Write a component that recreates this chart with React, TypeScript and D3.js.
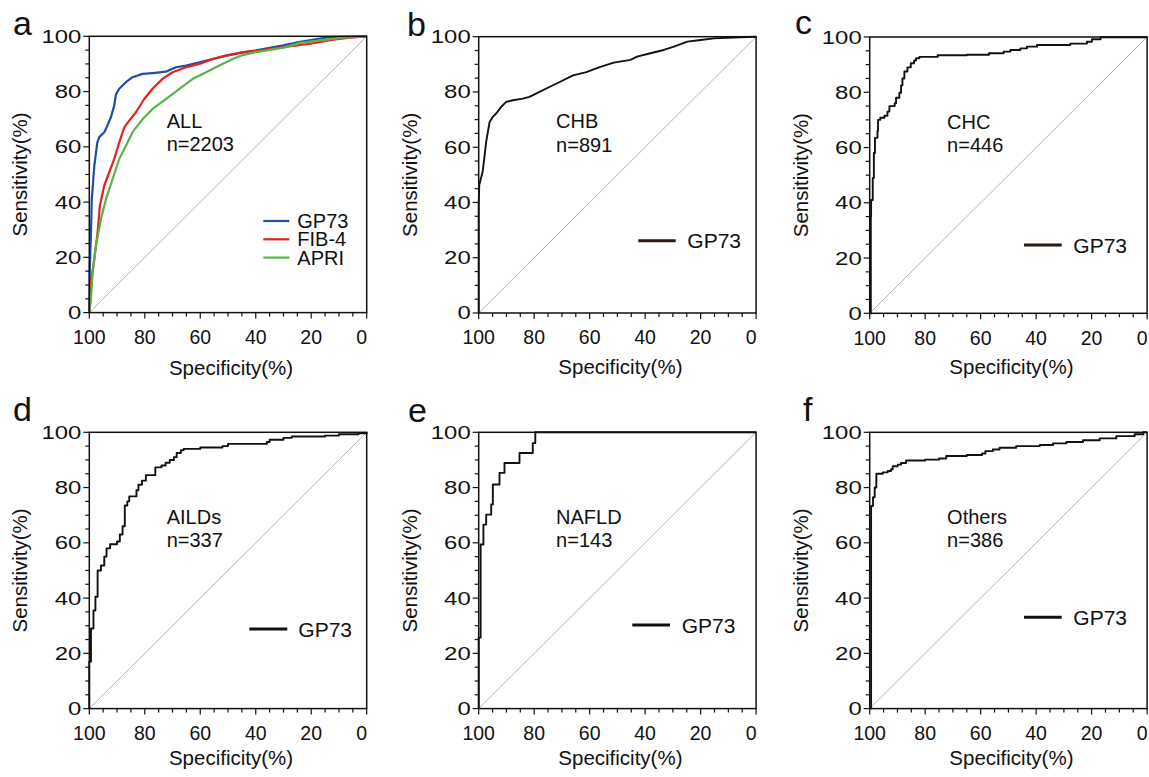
import * as d3 from 'd3';
import React from 'react';

// ROC curves, points are [specificity %, sensitivity %]
const majorTicks = [0, 20, 40, 60, 80, 100];
const minorTicks = d3.range(0, 101, 5);

const allGP73: [number, number][] = [
  [100, 0], [99.8, 17], [99.4, 29], [99.1, 41], [98.2, 53], [97.1, 61.6], [96.4, 63.5],
  [94.6, 65.3], [94, 66.5], [92.2, 70.7], [91, 75], [90.4, 79], [89.2, 81], [86.8, 83.4],
  [84.4, 85.2], [80.8, 86.4], [77.2, 86.7], [72.4, 87.2], [68.8, 88.8], [65.1, 89.4],
  [60.3, 90.6], [55.5, 91.8], [50.7, 93], [44.7, 94.2], [39.9, 94.9], [30, 96.7],
  [24, 98], [16.8, 99.2], [12, 99.8], [0, 100],
];
const allFIB4: [number, number][] = [
  [100, 0], [99.4, 11], [98.2, 19.4], [97, 29], [96.2, 38.7], [94.6, 46], [92.8, 50.8],
  [91, 55.6], [89.2, 61.6], [87.4, 67], [85.6, 69.5], [83.2, 72.5], [80.2, 77.3],
  [77.2, 81], [73.6, 84.6], [70, 87], [65.1, 88.8], [60.3, 90], [55.5, 91.8], [50.7, 93],
  [44.7, 94.2], [39.9, 94.7], [30, 96.1], [20.4, 97.3], [12, 98.8], [6, 99.5], [0, 100],
];
const allAPRI: [number, number][] = [
  [100, 0], [99.4, 5], [98.8, 14.6], [97.6, 24.2], [95.8, 33.9], [94, 41], [91.6, 48.4],
  [89.2, 55.6], [86.8, 60.4], [84.4, 65.3], [80.8, 70], [77.2, 73.7], [72.4, 77.3],
  [67.5, 81], [62.7, 84.6], [57.9, 87], [53.1, 89.4], [48.3, 91.8], [44.7, 93.2],
  [39.9, 94.3], [30, 95.9], [24, 97.6], [16.8, 98.5], [8.4, 99.5], [0, 100],
];
const chbGP73: [number, number][] = [
  [100, 0], [100, 39], [99.8, 46.3], [99.2, 48.7], [98.6, 51], [98, 55.9], [97.3, 62],
  [96.7, 65.5], [96.1, 69], [94.9, 71], [93.7, 72.2], [91.9, 74.6], [90.1, 76.4],
  [87.7, 77], [84.1, 77.6], [81.7, 78.2], [78.1, 80], [74.5, 81.8], [70.8, 83.6],
  [66, 86], [61.2, 87.2], [56.4, 89], [51.3, 90.6], [45.3, 91.6], [42.9, 92.8],
  [38.1, 94], [33.3, 95.2], [29.6, 96.4], [24.8, 98.2], [20, 98.8], [15.2, 99.4],
  [5.5, 99.8], [0, 100],
];
// step curves: each point is the top of a vertical rise
const chcGP73: [number, number][] = [
  [100, 0], [99.6, 35], [99.5, 41], [98.9, 49], [98.5, 58], [98.1, 63.5], [97.2, 66],
  [97, 70], [96.2, 70.8], [94.7, 71.5], [93.6, 73], [92.9, 75], [91, 76], [90.5, 78],
  [89.3, 79.8], [88.7, 82.5], [88.2, 85], [87.5, 87.5], [86.4, 89], [85.2, 90.5],
  [84, 91.5], [83.3, 92.3], [82.1, 92.8], [75.5, 93.4], [65, 93.6], [57, 94.1],
  [51.7, 94.7], [49.3, 95.3], [45.7, 95.9], [43.3, 96.5], [39.7, 97.1], [27.7, 97.6],
  [21.7, 98.3], [19.9, 99.2], [16.8, 99.9], [0, 100],
];
const aildGP73: [number, number][] = [
  [100, 0], [100, 17], [99.4, 29], [98.5, 35.5], [97.8, 40.5], [97, 50], [95.8, 51.8],
  [94.6, 55], [93.8, 58], [92.5, 59.5], [90, 60.5], [89, 63], [88, 66], [87.2, 73.5],
  [86.3, 75], [85.6, 76.8], [83, 79], [82.3, 81], [81, 82.5], [79.6, 84.5], [76.2, 87.3],
  [74, 88], [72.5, 89], [71, 90], [69.5, 91], [68.5, 92.5], [67, 93.5], [66, 94],
  [60, 94.5], [52, 95], [50, 95.8], [36, 96.5], [35, 97.3], [30, 98], [27, 98.5],
  [15, 98.8], [10, 99.3], [3, 99.6], [0, 100],
];
const nafldGP73: [number, number][] = [
  [100, 0], [100, 25.7], [99.3, 59.4], [98.3, 66.6], [97.3, 70.2], [95.5, 73.9],
  [94.9, 81.1], [92.5, 85.3], [90.7, 88.9], [85.3, 92.5], [80.5, 96.1], [79.6, 100], [0, 100],
];
const othersGP73: [number, number][] = [
  [100, 0], [99.5, 73.3], [98.8, 76.5], [98.2, 80], [97.6, 85], [95.3, 85.5], [93.5, 86],
  [92.3, 86.6], [91.7, 87.7], [89.9, 88.3], [88.7, 88.9], [86.9, 89.8], [80, 90.1],
  [75, 90.5], [72.4, 91.4], [65, 91.8], [59.5, 92.3], [58.3, 93.2], [55.6, 93.8],
  [53.2, 94.4], [47.2, 95], [38.7, 95.4], [33.9, 96], [29.1, 96.5], [23.1, 97.1],
  [17.1, 97.8], [11.1, 98.6], [4.5, 99.3], [1.4, 100], [0, 100],
];

const BLUE = '#1d4fa6';
const RED = '#e4211f';
const GREEN = '#5bb348';
const BROWN = '#2b1914';
const BLACK = '#111';

const font = '"Liberation Sans", Arial, sans-serif';
const W = 277.4;
const H = 276.3;

const panels = [
  { letter: 'a', left: 89.3, top: 36.3, lx: 13, ly: 35, title: 'ALL', n: 'n=2203', step: false,
    series: [{ name: 'GP73', color: BLUE, data: allGP73 }, { name: 'FIB-4', color: RED, data: allFIB4 }, { name: 'APRI', color: GREEN, data: allAPRI }],
    legend: { x1: 174, x2: 200, y: 184.7, tx: 208, color: null as string | null }, xTitleY: 62 },
  { letter: 'b', left: 478.7, top: 36.7, lx: 407, ly: 36, title: 'CHB', n: 'n=891', step: false,
    series: [{ name: 'GP73', color: BLACK, data: chbGP73 }],
    legend: { x1: 159.6, x2: 197, y: 204, tx: 208.6, color: BROWN }, xTitleY: 61 },
  { letter: 'c', left: 869.7, top: 37, lx: 795, ly: 34, title: 'CHC', n: 'n=446', step: true,
    series: [{ name: 'GP73', color: BLACK, data: chcGP73 }],
    legend: { x1: 154.3, x2: 192, y: 208, tx: 203.6, color: BROWN }, xTitleY: 61 },
  { letter: 'd', left: 89.3, top: 432.3, lx: 13, ly: 421, title: 'AILDs', n: 'n=337', step: true,
    series: [{ name: 'GP73', color: BLACK, data: aildGP73 }],
    legend: { x1: 160, x2: 198, y: 196.7, tx: 209, color: BLACK }, xTitleY: 56 },
  { letter: 'e', left: 478.7, top: 432.3, lx: 408, ly: 422, title: 'NAFLD', n: 'n=143', step: true,
    series: [{ name: 'GP73', color: BLACK, data: nafldGP73 }],
    legend: { x1: 153.6, x2: 191.3, y: 192.7, tx: 203, color: BLACK }, xTitleY: 56 },
  { letter: 'f', left: 869.7, top: 432.3, lx: 803, ly: 421, title: 'Others', n: 'n=386', step: true,
    series: [{ name: 'GP73', color: BLACK, data: othersGP73 }],
    legend: { x1: 154.3, x2: 192, y: 185, tx: 203.6, color: BLACK }, xTitleY: 56 },
];

const x = d3.scaleLinear().domain([100, 0]).range([0, W]);
const y = d3.scaleLinear().domain([0, 100]).range([H, 0]);

function Panel({ p }: { p: typeof panels[number] }) {
  const line = d3.line<[number, number]>()
    .x(d => x(d[0]))
    .y(d => y(d[1]))
    .curve(p.step ? d3.curveStepAfter : d3.curveLinear);
  const lg = p.legend;
  const multi = p.series.length > 1;
  return (
    <g>
      <text x={p.lx} y={p.ly} fontSize={34} fontFamily={font} fill="#111">{p.letter}</text>
      <g transform={`translate(${p.left},${p.top})`}>
        <line x1={x(100)} y1={y(0)} x2={x(0)} y2={y(100)} stroke="#b5b5b5" strokeWidth={1} />
        {p.series.map(s => (
          <path key={s.name} d={line(s.data) || ''} fill="none" stroke={s.color}
            strokeWidth={multi ? 2.2 : 1.9} strokeLinejoin="round" />
        ))}
        <rect x={0} y={0} width={W} height={H} fill="none" stroke="#111" strokeWidth={1.5} />
        {minorTicks.map(t => {
          const len = t % 20 === 0 ? 6 : 4;
          return (
            <g key={t}>
              <line x1={-len} x2={0} y1={y(t)} y2={y(t)} stroke="#111" strokeWidth={1.2} />
              <line x1={x(t)} x2={x(t)} y1={H} y2={H + len} stroke="#111" strokeWidth={1.2} />
            </g>
          );
        })}
        {majorTicks.map(t => (
          <g key={t}>
            <text x={-8} y={y(t) + 6.5} textAnchor="end" fontSize={18.5} fontFamily={font} fill="#111"
              textLength={String(t).length * 13.3} lengthAdjust="spacingAndGlyphs">{t}</text>
            <text x={x(t) - (t === 0 ? 5 : 0)} y={H + 31.5} textAnchor="middle" fontSize={19.5}
              fontFamily={font} fill="#111">{t}</text>
          </g>
        ))}
        <text transform={`translate(-62,${H / 2}) rotate(-90)`} textAnchor="middle" fontSize={20.5}
          fontFamily={font} fill="#111">Sensitivity(%)</text>
        <text x={W / 2 + 3} y={H + p.xTitleY} textAnchor="middle" fontSize={20.5} fontFamily={font}
          fill="#111">Specificity(%)</text>
        <text x={77.4} y={91.5} fontSize={20} fontFamily={font} fill="#111">{p.title}</text>
        <text x={77.4} y={115.2} fontSize={20} fontFamily={font} fill="#111">{p.n}</text>
        {p.series.map((s, i) => (
          <g key={s.name} transform={`translate(0,${lg.y + i * 18.3})`}>
            <line x1={lg.x1} x2={lg.x2} y1={0} y2={0} stroke={lg.color || s.color}
              strokeWidth={multi ? 2.2 : 3} />
            <text x={lg.tx} y={multi ? 7 : 7.5} fontSize={multi ? 20 : 21} fontFamily={font} fill="#111">{s.name}</text>
          </g>
        ))}
      </g>
    </g>
  );
}

export default function App() {
  return (
    <svg width={1149} height={777} style={{ position: 'absolute', left: 0, top: 0, background: '#fff' }}>
      {panels.map(p => <Panel key={p.letter} p={p} />)}
    </svg>
  );
}
